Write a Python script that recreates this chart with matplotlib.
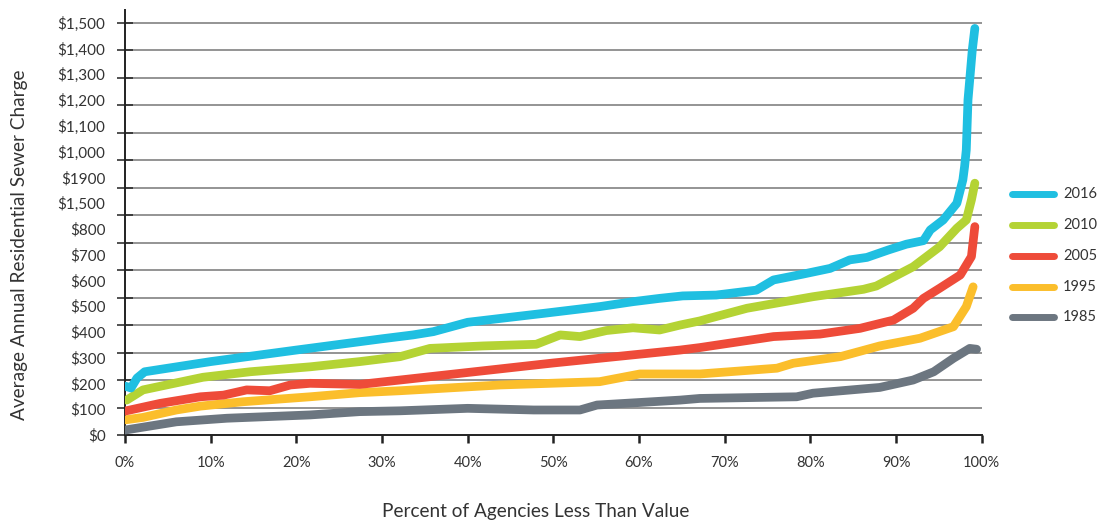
import matplotlib
matplotlib.use("Agg")
import matplotlib.pyplot as plt
import numpy as np

plt.rcParams['font.family'] = ['Lato', 'DejaVu Sans']

# ---- data (percent of agencies, charge in gridline units) ----
years = ["2016", "2010", "2005", "1995", "1985"]
colors = ["#1FBFE1", "#B4D334", "#EE4B39", "#FBBE2B", "#6C7680"]

x_2016 = [0, 0.7, 1.4, 2.3, 10, 20, 30, 33.6, 36, 40, 43.8, 49, 55.4, 59.3, 62.4, 65.1, 69,
          73.7, 75.7, 79.1, 82.3, 84.6, 86.6, 89.1, 91.2, 93.2, 94, 95.5, 97.1, 97.8, 98,
          98.2, 98.4, 98.9, 99.2]
y_2016 = [178, 171, 207, 230, 267, 309, 350, 364, 376, 410, 424, 443, 467, 485, 497, 506, 509,
          527, 564, 585, 606, 637, 646, 673, 694, 707, 746, 782, 843, 928, 976,
          1037, 1219, 1400, 1479]

x_2010 = [0.2, 2.1, 9.1, 14.6, 21.6, 27.4, 32.1, 35.6, 41.8, 48, 50.8, 53.1, 56.2, 59.3, 62.4,
          64.8, 67.1, 72.6, 80.3, 86.2, 87.7, 92, 95.1, 97.1, 98.2, 98.8, 99.2]
y_2010 = [127, 164, 210, 230, 248, 267, 285, 315, 324, 330, 364, 358, 380, 390, 382,
          400, 415, 461, 503, 530, 542, 612, 685, 752, 782, 855, 916]

x_2005 = [0, 4.1, 8.8, 11.5, 14.2, 16.9, 19.3, 21.6, 27.4, 32.1, 50, 64.8, 67.1, 75.7, 81.1,
          85.8, 89.7, 92, 93.2, 95.1, 97.5, 98.8, 99.2]
y_2005 = [87, 115, 139, 145, 164, 161, 182, 188, 184, 200, 262, 309, 318, 358, 367,
          388, 418, 461, 497, 534, 582, 649, 758]

x_1995 = [0, 2.1, 6, 8.8, 13.8, 21.6, 27.4, 32.1, 43.8, 55.4, 60.1, 64.8, 67.1, 76.1, 78,
          83.5, 88.1, 92.8, 96.7, 98.2, 99]
y_1995 = [55, 64, 91, 105, 121, 139, 154, 161, 182, 194, 222, 222, 222, 243, 261,
          285, 324, 352, 394, 467, 539]

x_1985 = [0, 6, 11.9, 21.6, 27.4, 32.1, 40, 47.7, 53.1, 55.1, 64.8, 67.1, 78.4, 80.3, 88.1,
          92, 94.4, 96.7, 98.6, 99.4]
y_1985 = [18, 48, 61, 73, 85, 88, 97, 91, 91, 109, 127, 133, 139, 152, 173,
          200, 230, 279, 315, 312]

series_x = [x_2016, x_2010, x_2005, x_1995, x_1985]
series_y = [y_2016, y_2010, y_2005, y_1995, y_1985]

x_ticks = [0, 10, 20, 30, 40, 50, 60, 70, 80, 90, 100]
x_tick_labels = ["0%", "10%", "20%", "30%", "40%", "50%", "60%", "70%", "80%", "90%", "100%"]
grid_levels = list(range(0, 1501, 100))
y_tick_labels = ["$0", "$100", "$200", "$300", "$400", "$500", "$600", "$700", "$800",
                 "$1,500", "$1900", "$1,000", "$1,100", "$1,200", "$1,300", "$1,400", "$1,500"]

text_color = "#333333"

fig = plt.figure(figsize=(10.97, 5.22), dpi=100)
ax = fig.add_axes([125 / 1097, 87 / 522, (981.7 - 125) / 1097, (512 - 87) / 522])
ax.set_xlim(0, 100)
ax.set_ylim(0, 1546)

# gridlines
for g in grid_levels[1:]:
    ax.axhline(g, color="#777777", lw=1.1, zorder=1)

# lines (draw bottom series first)
for xs, ys, c in reversed(list(zip(series_x, series_y, colors))):
    ax.plot(xs, ys, color=c, lw=6.3, solid_capstyle="round", solid_joinstyle="round", zorder=3)

# spines
for s in ["top", "right"]:
    ax.spines[s].set_visible(False)
for s in ["left", "bottom"]:
    ax.spines[s].set_color("#222222")
    ax.spines[s].set_linewidth(1.4)

# x ticks
ax.set_xticks(x_ticks)
ax.set_xticklabels(x_tick_labels)
ax.tick_params(axis="x", direction="out", length=6, width=1.8, color="#222222",
               pad=9, labelsize=10.5, labelcolor=text_color)

# y ticks: major ticks at gridlines without labels, labels spaced evenly (as in the source)
ax.yaxis.set_remove_overlapping_locs(False)
ax.set_yticks(grid_levels)
ax.set_yticklabels([])
ax.tick_params(axis="y", which="major", direction="inout", length=11, width=1.1,
               color="#222222")
ax.set_yticks(np.linspace(0, 1500, len(y_tick_labels)), minor=True)
ax.set_yticklabels(y_tick_labels, minor=True)
ax.tick_params(axis="y", which="minor", length=0, pad=14, labelsize=11,
               labelcolor=text_color)

# axis titles
fig.text(536 / 1097, 1 - 512 / 522, "Percent of Agencies Less Than Value",
         ha="center", va="center", fontsize=13.7, color=text_color)
fig.text(20 / 1097, 1 - 245 / 522, "Average Annual Residential Sewer Charge",
         ha="center", va="center", rotation=90, fontsize=13.7, color=text_color)

# legend
leg_y = [194, 225, 256, 287, 317]
for yr, c, yy in zip(years, colors, leg_y):
    fy = 1 - yy / 522
    fig.add_artist(plt.Line2D([1012 / 1097, 1054 / 1097], [fy, fy], color=c, lw=5,
                              solid_capstyle="round", transform=fig.transFigure))
    fig.text(1063 / 1097, fy, yr, ha="left", va="center", fontsize=10.5, color=text_color)

fig.savefig("out.png", dpi=100, facecolor="white")
